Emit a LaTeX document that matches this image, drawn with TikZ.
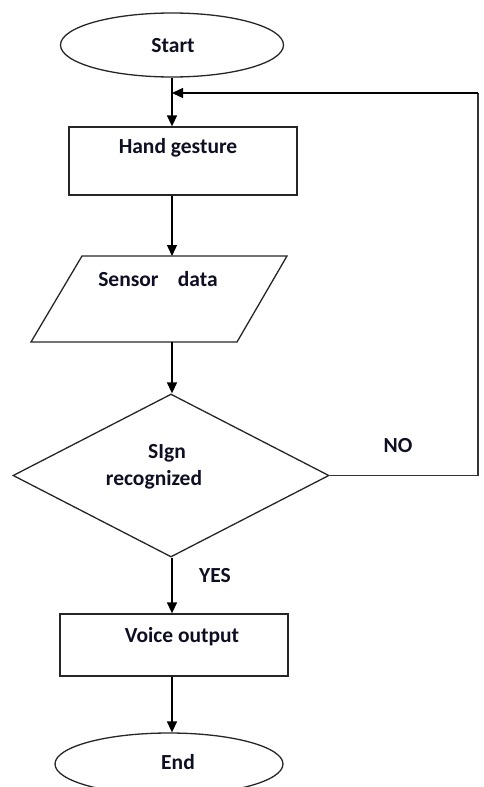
\documentclass[tikz,border=0pt]{standalone}
\usepackage{fontspec}
\setmainfont{Carlito}
\usetikzlibrary{shapes.geometric,arrows.meta}
\definecolor{txt}{rgb}{0.06,0.06,0.14}
\tikzset{
  shp/.style={draw=black!85, line width=1.3pt, inner sep=0pt},
  oval/.style={shp, ellipse},
  box/.style={shp, rectangle},
  dec/.style={shp, diamond},
  lbl/.style={font=\bfseries\fontsize{21.5}{25}\selectfont, text=txt, inner sep=0pt, align=center},
  arr/.style={line width=1.4pt, -{Triangle[length=11pt,width=10pt]}},
  ln/.style={line width=1.3pt, draw=black!80}
}
\begin{document}
\begin{tikzpicture}[x=1pt,y=-1pt]
\useasboundingbox (0,0) rectangle (483,787);
\node[oval, minimum width=223pt, minimum height=64pt] (start) at (172,45) {};
\node[box, minimum width=228pt, minimum height=68pt] (hand) at (183,161) {};
\coordinate (sTL) at (82,256);
\coordinate (sTR) at (287,256);
\coordinate (sBR) at (237,342);
\coordinate (sBL) at (31,342);
\draw[shp, line join=miter] (sTL) -- (sTR) -- (sBR) -- (sBL) -- cycle;
\coordinate (sensorN) at (172,256);
\coordinate (sensorS) at (172,342);
\node[dec, minimum width=316pt, minimum height=163pt] (dec) at (171,475.5) {};
\node[box, minimum width=228pt, minimum height=62pt] (voice) at (174,645) {};
\node[oval, minimum width=228pt, minimum height=62pt] (end) at (169,764) {};

\node[lbl] (tstart) at (173,46) {Start};
\node[lbl] (thand) at (178,148) {Hand gesture};
\node[lbl] (tsensor) at (158,279) {Sensor\hspace{0.9em}data};
\node[lbl] (tsign) at (167,453) {SIgn};
\node[lbl] (trec) at (154,480) {recognized};
\node[lbl] (tno) at (398,446) {NO};
\node[lbl] (tyes) at (215,576) {YES};
\node[lbl] (tvoice) at (182,637) {Voice output};
\node[lbl] (tend) at (178,762) {End};

\coordinate (loopR) at (478,475.5);
\coordinate (loopT) at (478,93);

\draw[arr] (start.south) -- (start.south |- hand.north);
\draw[arr] (hand.south -| start) -- (sensorN);
\draw[arr] (sensorS) -- (dec.north -| start);
\draw[arr] (dec.south -| start) -- (voice.north -| start);
\draw[arr] (voice.south -| start) -- (end.north -| start);
\draw[ln] (dec.east) -- (loopR) -- (loopT);
\draw[arr] (loopT) -- (loopT -| start);
\end{tikzpicture}
\end{document}
